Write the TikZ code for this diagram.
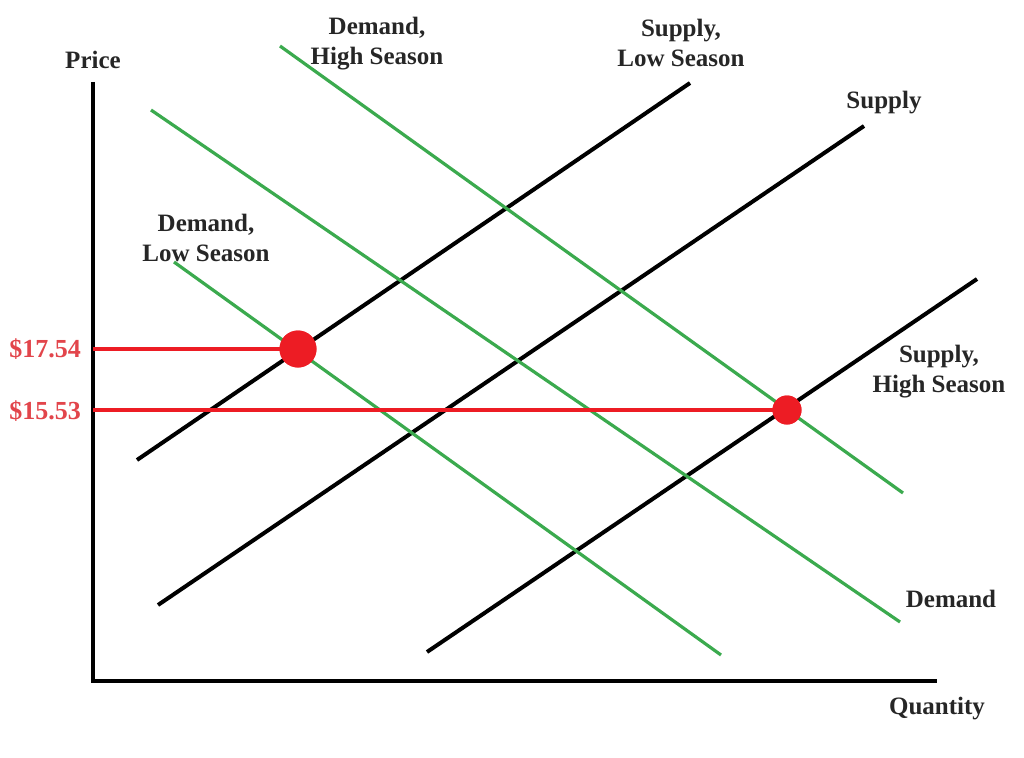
\documentclass[tikz,border=0pt]{standalone}
\usepackage{fontspec}
\setmainfont{Liberation Serif}
\usepackage{tikz}
\usepackage{xcolor}
\usetikzlibrary{calc}
\definecolor{demandcolor}{HTML}{3BAA4E}
\definecolor{hred}{HTML}{ED1C24}
\definecolor{pricecolor}{HTML}{E2454B}
\tikzstyle{axisline} =[
    draw=black,
    line width=4pt
    ]
\tikzstyle{supplyline} =[
    draw=black,
    line width=4pt
    ]
\tikzstyle{demandline} =[
    draw=demandcolor,
    line width=3.2pt
    ]
\tikzstyle{priceline} =[
    draw=hred,
    line width=3.2pt
    ]
\tikzstyle{curvelabel} =[
    font=\bfseries\fontsize{25}{30}\selectfont,
    text=black!85,
    align=center,
    inner sep=0pt
    ]
\tikzstyle{pricelabel} =[
    font=\bfseries\fontsize{26}{30}\selectfont,
    text=pricecolor,
    inner sep=0pt
    ]
\tikzstyle{eqdot} =[
    circle,
    fill=hred,
    inner sep=0pt
    ]

\begin{document}
\begin{tikzpicture}[x=1pt,y=-1pt]
\useasboundingbox (0,0) rectangle (1024,757);
% axes
\coordinate (origin) at (93,681);
\coordinate (ytop) at (93,82);
\coordinate (xend) at (937,681);
\draw[axisline] (ytop) -- (origin) -- (xend);
\node[curvelabel] (price) at (93,60) {Price};
\node[curvelabel] (quantity) at (937,709) {Quantity};

% supply curves
\coordinate (sl1) at (137,460);  \coordinate (sl2) at (690,83);
\coordinate (s1)  at (158,605);  \coordinate (s2)  at (864,126);
\coordinate (sh1) at (427,652);  \coordinate (sh2) at (977,279);
\draw[supplyline] (sl1) -- (sl2);
\draw[supplyline] (s1) -- (s2);
\draw[supplyline] (sh1) -- (sh2);

% demand curves
\coordinate (dh1) at (280,46);   \coordinate (dh2) at (903,493);
\coordinate (d1)  at (151,110);  \coordinate (d2)  at (900,622);
\coordinate (dl1) at (174,262);  \coordinate (dl2) at (721,655);
\draw[demandline] (dh1) -- (dh2);
\draw[demandline] (d1) -- (d2);
\draw[demandline] (dl1) -- (dl2);

% equilibrium prices
\coordinate (plow) at (93,349);
\coordinate (phigh) at (93,410);
\node[eqdot, minimum size=37pt] (eqlow) at (298,349) {};
\node[eqdot, minimum size=29pt] (eqhigh) at (787,410) {};
\draw[priceline] (plow) -- (eqlow.center);
\draw[priceline] (phigh) -- (eqhigh.center);
\node[eqdot, minimum size=37pt] at (eqlow) {};
\node[eqdot, minimum size=29pt] at (eqhigh) {};
\node[pricelabel] (lowprice) at (45,349) {\$17.54};
\node[pricelabel] (highprice) at (45,411) {\$15.53};

% curve labels
\node[curvelabel] (dhlabel) at (377,44) {Demand,\\High Season};
\node[curvelabel] (sllabel) at (681,43) {Supply,\\Low Season};
\node[curvelabel] (slabel) at (884,103) {Supply};
\node[curvelabel] (dllabel) at (206,238) {Demand,\\Low Season};
\node[curvelabel] (shlabel) at (939,372) {Supply,\\High Season};
\node[curvelabel] (dlabel) at (951,599) {Demand};
\end{tikzpicture}
\end{document}
